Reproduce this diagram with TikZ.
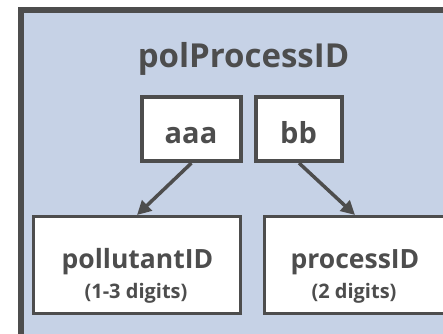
\documentclass[tikz,border=0pt]{standalone}
\usepackage{fontspec}
\setmainfont{Open Sans}
\usetikzlibrary{arrows.meta,calc}
\definecolor{bgblue}{HTML}{C6D2E6}
\definecolor{ink}{HTML}{4D4D4D}
\begin{document}
\begin{tikzpicture}[x=1pt,y=-1pt,
  topbox/.style={draw=ink, fill=white, line width=4pt, inner sep=0pt, minimum height=64pt},
  lowbox/.style={draw=ink, fill=white, line width=3pt, inner sep=0pt, minimum height=97pt},
  titletxt/.style={text=ink, inner sep=0pt, anchor=base, font=\fontsize{33}{39}\selectfont\bfseries},
  bigtxt/.style={text=ink, inner sep=0pt, anchor=base, font=\fontsize{29}{35}\selectfont\bfseries},
  midtxt/.style={text=ink, inner sep=0pt, anchor=base, font=\fontsize{26.5}{32}\selectfont\bfseries},
  smalltxt/.style={text=ink, inner sep=0pt, anchor=base, font=\fontsize{20}{24}\selectfont\bfseries},
  conn/.style={draw=ink, line width=3.5pt, -{Triangle[length=14pt,width=14pt]}}
]
\useasboundingbox (0,0) rectangle (443,333);
\clip (0,0) rectangle (443,333);
\draw[line width=6pt, draw=ink, fill=bgblue] (21,10) rectangle (470,360);
\node[titletxt] (title) at (243.5,67) {polProcessID};
\node[topbox, minimum width=99pt] (aaa) at (191.5,129) {};
\node[topbox, minimum width=86pt] (bb) at (299,129) {};
\node[bigtxt] (aaat) at (191,143) {aaa};
\node[bigtxt] (bbt) at (298.5,143) {bb};
\node[lowbox, minimum width=207pt] (pol) at (137,265) {};
\node[lowbox, minimum width=181pt] (proc) at (355,265) {};
\node[midtxt] (polt) at (137.5,268) {pollutantID};
\node[smalltxt] (pold) at (136,298) {(1-3 digits)};
\node[midtxt] (proct) at (355,268) {processID};
\node[smalltxt] (procd) at (354,298) {(2 digits)};
\draw[conn] (aaa.south) -- (pol.north);
\draw[conn] (bb.south) -- (proc.north);
\end{tikzpicture}
\end{document}
